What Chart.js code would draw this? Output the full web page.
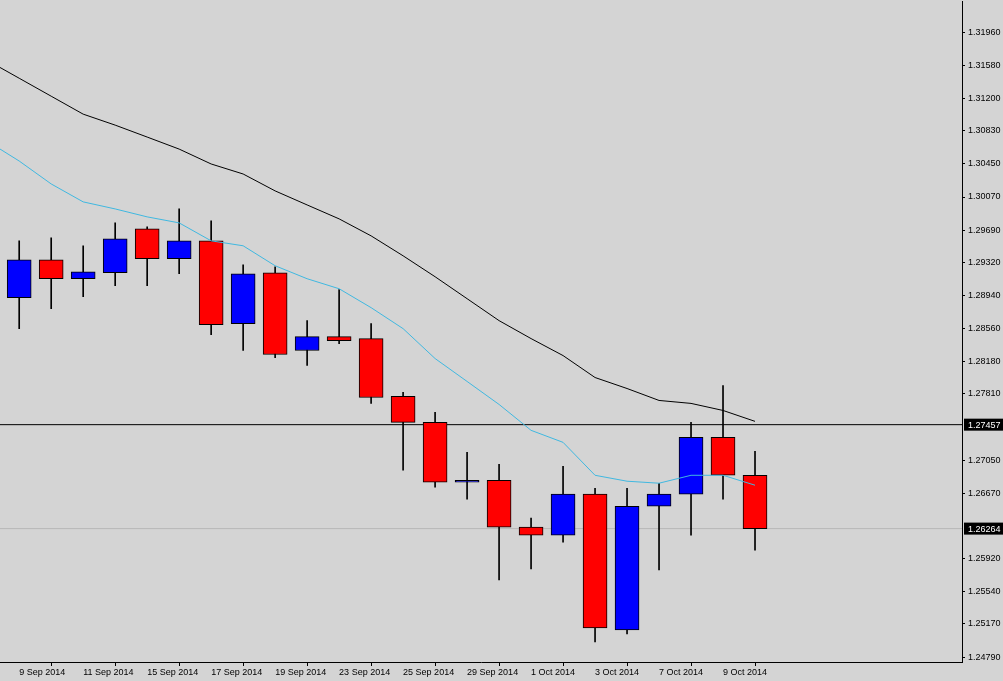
<!DOCTYPE html>
<html><head><meta charset="utf-8">
<script src="https://cdn.jsdelivr.net/npm/chart.js@4/dist/chart.umd.min.js"></script>
<style>html,body{margin:0;padding:0;background:#d4d4d4;overflow:hidden;}#w{width:1003px;height:695px;margin-top:-7px;}</style>
</head><body><div id="w"><canvas id="c"></canvas></div>
<script>
const dates=["9 Sep 2014","10 Sep 2014","11 Sep 2014","12 Sep 2014","15 Sep 2014","16 Sep 2014","17 Sep 2014","18 Sep 2014","19 Sep 2014","22 Sep 2014","23 Sep 2014","24 Sep 2014","25 Sep 2014","26 Sep 2014","29 Sep 2014","30 Sep 2014","1 Oct 2014","2 Oct 2014","3 Oct 2014","6 Oct 2014","7 Oct 2014","8 Oct 2014","9 Oct 2014","10 Oct 2014"];
const opens=[1.28914,1.29349,1.29132,1.29201,1.29704,1.29361,1.29567,1.28617,1.29201,1.28308,1.28468,1.28445,1.27781,1.27483,1.26796,1.26819,1.26281,1.26189,1.26659,1.25101,1.26521,1.26659,1.27311,1.26876];
const highs=[1.29567,1.29601,1.29510,1.29773,1.29727,1.29933,1.29796,1.29292,1.29269,1.28651,1.29006,1.28617,1.27827,1.27598,1.27140,1.27002,1.26384,1.26979,1.26727,1.26727,1.26785,1.27483,1.27907,1.27151];
const lows=[1.28559,1.28788,1.28926,1.29052,1.29052,1.29189,1.28491,1.28308,1.28227,1.28136,1.28388,1.27701,1.26934,1.26739,1.26601,1.25674,1.25800,1.26109,1.24964,1.25056,1.25789,1.26189,1.26601,1.26017];
const closes=[1.29349,1.29132,1.29212,1.29590,1.29361,1.29567,1.28605,1.29189,1.28262,1.28468,1.28422,1.27769,1.27483,1.26796,1.26819,1.26281,1.26189,1.26659,1.25124,1.26521,1.26659,1.27311,1.26876,1.26264];
const maSlow=[1.31639,1.31433,1.31227,1.31021,1.30895,1.30758,1.30620,1.30449,1.30334,1.30140,1.29979,1.29819,1.29624,1.29395,1.29155,1.28903,1.28651,1.28445,1.28250,1.27998,1.27872,1.27735,1.27701,1.27620,1.27495];
const maFast=[1.30712,1.30483,1.30220,1.30014,1.29933,1.29842,1.29773,1.29567,1.29510,1.29281,1.29132,1.29017,1.28800,1.28559,1.28216,1.27953,1.27689,1.27392,1.27254,1.26876,1.26808,1.26785,1.26876,1.26876,1.26762];
const yTicks=[1.31960,1.31580,1.31200,1.30830,1.30450,1.30070,1.29690,1.29320,1.28940,1.28560,1.28180,1.27810,1.27050,1.26670,1.25920,1.25540,1.25170,1.24790];
const levelLine=1.27457;
const bidLine=1.26264;

const idx=dates.map((d,i)=>i);
const bodies=idx.map(i=>({x:i,y:[opens[i],closes[i]]}));
const wicks=idx.map(i=>({x:i,y:[lows[i],highs[i]]}));
const bodyColors=idx.map(i=>closes[i]>=opens[i]?'#0000ff':'#ff0000');
const ma=(arr)=>arr.map((v,i)=>({x:i-1,y:v}));
const FONT='"Liberation Sans", Arial, sans-serif';

const labelPlugin={id:'lbl',afterDraw(ch){
  const c=ch.ctx,y=ch.scales.y,a=ch.chartArea;
  c.save();c.font='9px '+FONT;c.textBaseline='middle';
  [levelLine,bidLine].forEach(v=>{const p=y.getPixelForValue(v);
    c.fillStyle='#000';c.fillRect(a.right+2,p-6,39,12);
    c.fillStyle='#fff';c.fillText(v.toFixed(5),a.right+6,p+0.5);});
  c.restore();}};

new Chart(document.getElementById('c'),{
  type:'bar',
  data:{datasets:[
    {type:'line',data:[{x:-2,y:bidLine},{x:40,y:bidLine}],borderColor:'#b8b8b8',borderWidth:1,pointRadius:0,order:5},
    {type:'line',data:[{x:-2,y:levelLine},{x:40,y:levelLine}],borderColor:'#000',borderWidth:1,pointRadius:0,order:5},
    {type:'bar',data:wicks,backgroundColor:'#000',barThickness:1,grouped:false,order:4},
    {type:'bar',data:bodies,backgroundColor:bodyColors,borderColor:'#000',borderWidth:1,borderSkipped:false,barThickness:24,grouped:false,order:3},
    {type:'line',data:ma(maSlow),borderColor:'#000',borderWidth:1,pointRadius:0,tension:0,order:1},
    {type:'line',data:ma(maFast),borderColor:'#40b8e0',borderWidth:1,pointRadius:0,tension:0,order:1}
  ]},
  options:{responsive:true,maintainAspectRatio:false,animation:false,
    layout:{padding:0},
    plugins:{legend:{display:false},tooltip:{enabled:false}},
    scales:{
      x:{type:'linear',min:-0.6,max:29.47,offset:false,
        afterBuildTicks:s=>{s.ticks=idx.filter(i=>i%2===0).map(i=>({value:i}));},
        afterFit:s=>{s.height=26;},
        ticks:{autoSkip:false,maxRotation:0,align:'start',padding:1,color:'#000',font:{size:9,family:FONT},callback:v=>dates[v]},
        grid:{drawOnChartArea:false,tickLength:4,color:'#000'},border:{color:'#000'}},
      y:{position:'right',min:1.24733,max:1.32315,
        afterBuildTicks:s=>{s.ticks=yTicks.map(v=>({value:v}));},
        afterFit:s=>{s.width=41;},
        ticks:{autoSkip:false,padding:3,color:'#000',font:{size:9,family:FONT},callback:v=>v.toFixed(5)},
        grid:{drawOnChartArea:false,tickLength:3,color:'#000'},border:{color:'#000'}}
    }},
  plugins:[labelPlugin]
});
</script></body></html>
